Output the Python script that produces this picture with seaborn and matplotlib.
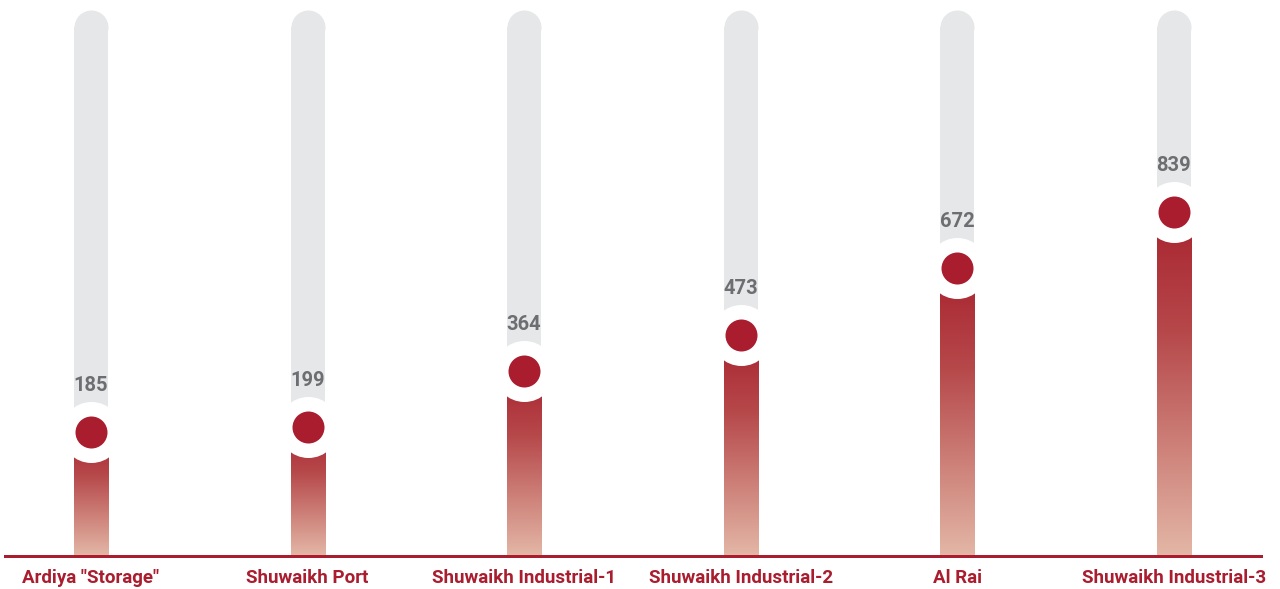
import numpy as np
import pandas as pd
import matplotlib
matplotlib.use("Agg")
import matplotlib.pyplot as plt
import seaborn as sns
from matplotlib.colors import LinearSegmentedColormap

# Data
sites = ['Ardiya "Storage"', "Shuwaikh Port", "Shuwaikh Industrial-1",
         "Shuwaikh Industrial-2", "Al Rai", "Shuwaikh Industrial-3"]
counts = [185, 199, 364, 473, 672, 839]

df = pd.DataFrame({"site": sites, "count": counts})

# Styling constants
RED = "#a91d2f"
GREY_TXT = "#6d6e71"
TRACK = "#e6e7e8"
FLOOR = -183          # value at the baseline
Y_TOP = 1468          # value at the top edge of the figure
TRACK_TOP = 1388      # where the grey track's rounded cap is centred
BAR_W = 0.157
PX = 72 / 100         # points per pixel at dpi 100

sns.set_theme(style="white")
plt.rcParams["font.family"] = ["Roboto", "DejaVu Sans"]

fig = plt.figure(figsize=(12.8, 5.89), dpi=100)
ax = fig.add_axes([5 / 1280, 1 - 555.5 / 589, 1256 / 1280, 555.5 / 589])

# grey background tracks
track_df = df.assign(track=TRACK_TOP)
sns.barplot(data=track_df, x="site", y="track", color=TRACK, width=BAR_W,
            saturation=1, errorbar=None, ax=ax, zorder=1)
n_track = len(ax.patches)
for p in ax.patches:
    top = p.get_y() + p.get_height()
    p.set_y(FLOOR)
    p.set_height(top - FLOOR)
    p.set_edgecolor("none")
# rounded caps on the tracks
sns.pointplot(data=track_df, x="site", y="track", color=TRACK, errorbar=None,
              linestyle="none", marker="o", markersize=34 * PX,
              markeredgewidth=0, ax=ax, zorder=1)

# value bars with vertical gradient
sns.barplot(data=df, x="site", y="count", color=RED, width=BAR_W,
            saturation=1, errorbar=None, ax=ax, zorder=2)
cmap = LinearSegmentedColormap.from_list(
    "fade", [(0, "#a8232f"), (0.35, "#b6484a"), (1, "#e3b6a5")])
grad = np.linspace(0, 1, 256).reshape(-1, 1)
for p in ax.patches[n_track:]:
    top = p.get_y() + p.get_height()
    p.set_y(FLOOR)
    p.set_height(top - FLOOR)
    p.set_facecolor("none")
    p.set_edgecolor("none")
    x0 = p.get_x()
    img = ax.imshow(grad, cmap=cmap, aspect="auto", origin="upper",
                    extent=[x0, x0 + p.get_width(), FLOOR, top], zorder=2)
    img.set_clip_path(p)

# white halo and red marker at each value
sns.pointplot(data=df, x="site", y="count", color="white", errorbar=None,
              linestyle="none", marker="o", markersize=61 * PX,
              markeredgewidth=0, ax=ax, zorder=3)
sns.pointplot(data=df, x="site", y="count", color=RED, errorbar=None,
              linestyle="none", marker="o", markersize=32 * PX,
              markeredgewidth=0, ax=ax, zorder=4)

# value labels
for i, v in enumerate(counts):
    ax.annotate(f"{v}", (i, v), xytext=(0, 41 * PX), textcoords="offset points",
                ha="center", va="baseline", fontsize=14.5, fontweight="bold",
                color=GREY_TXT, zorder=5)

ax.set_xlim(-0.397, 5.402)
ax.set_ylim(FLOOR, Y_TOP)
ax.set_xlabel("")
ax.set_ylabel("")
ax.set_yticks([])
ax.set_xticks(range(len(sites)))
ax.set_xticklabels(sites, fontsize=13.5, fontweight="bold", color=RED)
ax.tick_params(axis="x", length=0, pad=10)
for side in ["top", "left", "right"]:
    ax.spines[side].set_visible(False)
ax.spines["bottom"].set_color(RED)
ax.spines["bottom"].set_linewidth(3 * PX)
ax.set_facecolor("white")

fig.savefig("out.png", dpi=100, facecolor="white")
